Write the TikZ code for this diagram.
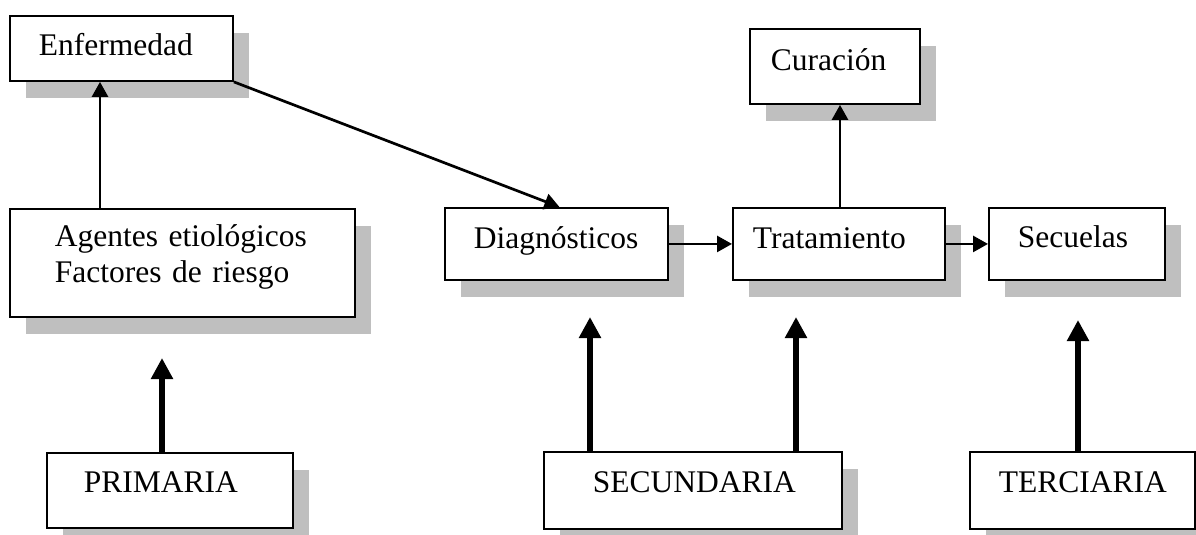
\documentclass[tikz,border=0pt]{standalone}
\usepackage{fontspec}
\setmainfont{Liberation Serif}
\usetikzlibrary{arrows.meta,shadows}
\begin{document}
\begin{tikzpicture}[x=1pt,y=-1pt,
  box/.style={draw, line width=1.9pt, fill=white, anchor=north west,
    inner xsep=0pt, inner ysep=0pt, align=left,
    font=\fontsize{31.5}{36}\selectfont,
    drop shadow={shadow xshift=16pt, shadow yshift=-17pt, opacity=1, fill=black!25}},
  arr/.style={line width=2.7pt, -{Triangle[length=15pt,width=16pt]}},
  bigarr/.style={line width=6.5pt, -{Triangle[length=21pt,width=21pt]}}]
\useasboundingbox (0,0) rectangle (1196,535);

\node[box, text width=223pt, text height=40pt, text depth=25pt] (enf) at (9,15) {\hspace*{29pt}Enfermedad};
\node[box, text width=345pt, text height=38pt, text depth=70pt] (age) at (9,208) {\hspace*{45pt}Agentes etiológicos\\\hspace*{45pt}Factores de riesgo};
\node[box, text width=223pt, text height=41pt, text depth=31pt] (dia) at (444,207) {\hspace*{29pt}Diagnósticos};
\node[box, text width=212pt, text height=41pt, text depth=31pt] (tra) at (732,207) {\hspace*{20pt}Tratamiento};
\node[box, text width=170pt, text height=42pt, text depth=33pt] (cur) at (749,28) {\hspace*{21pt}Curación};
\node[box, text width=176pt, text height=40pt, text depth=32pt] (secu) at (988,207) {\hspace*{29pt}Secuelas};
\node[box, text width=246pt, text height=40pt, text depth=35pt] (pri) at (46,452) {\hspace*{37pt}PRIMARIA};
\node[box, text width=298pt, text height=41pt, text depth=36pt] (sec) at (543,451) {\hspace*{49pt}SECUNDARIA};
\node[box, text width=225pt, text height=41pt, text depth=36pt] (ter) at (969,451) {\hspace*{29pt}TERCIARIA};

\coordinate (tp) at (162,358);
\coordinate (td) at (590,317);
\coordinate (tt) at (796,317);
\coordinate (ts) at (1078,320);

\draw[arr] ([xshift=91pt]age.north west) -- ([xshift=91pt]enf.south west);
\draw[arr] (enf.south east) -- ([xshift=3pt]dia.north);
\draw[arr] (dia.east) -- (tra.west);
\draw[arr] (tra.east) -- (secu.west);
\draw[arr] ([xshift=108pt]tra.north west) -- ([xshift=91pt]cur.south west);

\draw[bigarr] ([xshift=116pt]pri.north west) -- (tp);
\draw[bigarr] ([xshift=47pt]sec.north west) -- (td);
\draw[bigarr] ([xshift=253pt]sec.north west) -- (tt);
\draw[bigarr] ([xshift=109pt]ter.north west) -- (ts);
\end{tikzpicture}
\end{document}
